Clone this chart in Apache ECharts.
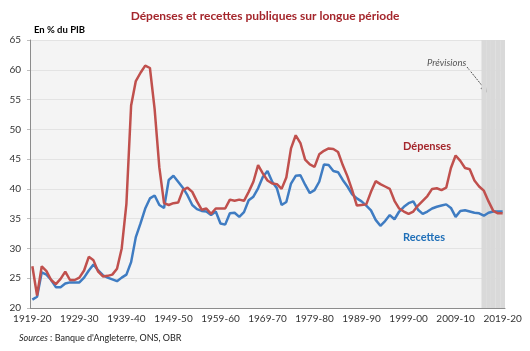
<!DOCTYPE html>
<html>
<head>
<meta charset="utf-8">
<script src="https://cdn.jsdelivr.net/npm/echarts@6/dist/echarts.min.js"></script>
<style>
  html, body { margin: 0; padding: 0; background: #fff; }
  #chart { width: 530px; height: 351px; }
</style>
</head>
<body>
<div id="chart"></div>
<script>
// années budgétaires 1919-20 ... 2019-20
var years = [];
for (var y = 1919; y <= 2019; y++) {
  years.push(y + '-' + String((y + 1) % 100).padStart(2, '0'));
}

var yTicks = [20, 25, 30, 35, 40, 45, 50, 55, 60, 65];
var forecastFrom = '2015-16';

// Dépenses publiques, en % du PIB
var depenses = [
  27.0, 22.1, 27.0, 26.2, 24.7, 24.0, 24.9, 26.1, 24.7, 24.7,
  25.1, 26.3, 28.6, 28.0, 26.1, 25.3, 25.4, 25.6, 26.6, 30.0,
  37.5, 54.0, 58.1, 59.5, 60.7, 60.3, 53.4, 43.6, 37.6, 37.3,
  37.6, 37.7, 39.8, 40.2, 39.5, 37.9, 36.5, 36.7, 35.8, 36.7,
  36.7, 36.7, 38.2, 38.0, 38.2, 38.0, 39.5, 41.2, 44.0, 42.6,
  41.4, 40.9, 40.8, 40.0, 41.9, 46.8, 49.0, 47.7, 44.9, 44.1,
  43.7, 45.8, 46.4, 46.8, 46.7, 46.2, 44.0, 42.1, 39.8, 37.2,
  37.3, 37.4, 39.5, 41.3, 40.8, 40.4, 40.0, 38.0, 36.7, 36.2,
  35.8, 36.2, 37.2, 38.0, 38.8, 40.0, 40.1, 39.8, 40.2, 43.5,
  45.6, 44.7, 43.5, 43.3, 41.4, 40.4, 39.7, 37.9, 36.3, 35.9,
  35.9
];

// Recettes publiques, en % du PIB
var recettes = [
  21.4, 21.9, 26.0, 25.6, 24.7, 23.5, 23.5, 24.1, 24.3, 24.3,
  24.3, 25.1, 26.3, 27.3, 26.3, 25.5, 25.1, 24.8, 24.5, 25.1,
  25.6, 27.7, 31.9, 34.2, 36.7, 38.4, 38.9, 37.3, 36.8, 41.5,
  42.2, 41.2, 40.2, 38.9, 37.3, 36.6, 36.3, 36.2, 35.6, 36.2,
  34.2, 34.0, 35.9, 36.0, 35.3, 36.1, 38.1, 38.7, 40.1, 42.0,
  43.0, 41.2, 40.1, 37.3, 37.8, 40.9, 42.2, 42.3, 40.7, 39.3,
  39.8, 41.2, 44.1, 44.0, 43.0, 42.8, 41.5, 40.4, 39.1, 38.4,
  37.9, 37.2, 36.4, 34.8, 33.8, 34.6, 35.6, 34.9, 36.2, 37.0,
  37.6, 37.9, 36.5, 35.8, 36.2, 36.7, 37.0, 37.2, 37.4, 36.8,
  35.3, 36.3, 36.4, 36.2, 36.0, 35.9, 35.5, 36.0, 36.2, 36.2,
  36.2
];

var yMin = yTicks[0], yMax = yTicks[yTicks.length - 1];
var startIdx = years.indexOf(forecastFrom);
// bande grise des prévisions : une barre pleine hauteur par année
var previsions = years.map(function (c, i) { return i >= startIdx ? yMax : '-'; });

var chart = echarts.init(document.getElementById('chart'));
var font = 'Lato, "Open Sans", sans-serif';

var option = {
  animation: false,
  textStyle: { fontFamily: font },
  title: {
    text: 'Dépenses et recettes publiques sur longue période',
    left: 'center',
    top: 5,
    textStyle: { fontSize: 12, fontWeight: 'bold', color: '#A4262C', fontFamily: font }
  },
  grid: {
    left: 30, right: 25, top: 40, bottom: 43,
    show: true, backgroundColor: '#F4F4F4', borderWidth: 0
  },
  xAxis: {
    type: 'category',
    data: years,
    boundaryGap: true,
    axisLine: { lineStyle: { color: '#8C8C8C', width: 1 } },
    axisTick: { interval: 9, length: 4, lineStyle: { color: '#8C8C8C' } },
    axisLabel: { interval: 9, fontSize: 10, color: '#333', margin: 6 },
    splitLine: { show: false }
  },
  yAxis: {
    type: 'value',
    min: yMin, max: yMax, interval: 5,
    axisLine: { show: true, lineStyle: { color: '#8C8C8C', width: 1 } },
    axisTick: { show: true, length: 3, lineStyle: { color: '#BDBDBD' } },
    axisLabel: { fontSize: 10, color: '#333', margin: 9 },
    splitLine: { lineStyle: { color: '#E3E3E3', width: 1 } }
  },
  series: [
    {
      name: 'Prévisions',
      type: 'bar',
      data: previsions,
      barCategoryGap: '0%',
      itemStyle: { color: '#D9D9D9' },
      silent: true,
      z: 1
    },
    {
      name: 'Recettes',
      type: 'line',
      data: recettes,
      showSymbol: false,
      lineStyle: { color: '#3F7CC2', width: 2.5 },
      z: 3
    },
    {
      name: 'Dépenses',
      type: 'line',
      data: depenses,
      showSymbol: false,
      lineStyle: { color: '#C0504D', width: 2.5 },
      z: 4
    }
  ],
  graphic: [
    {
      type: 'text', left: 34, top: 25,
      style: { text: 'En % du PIB', font: 'bold 9.5px ' + font, fill: '#000' }
    },
    {
      type: 'text', left: 427, top: 58,
      style: { text: 'Prévisions', font: 'italic 9.5px ' + font, fill: '#555' }
    },
    {
      type: 'line',
      shape: { x1: 467, y1: 67, x2: 484, y2: 88 },
      style: { stroke: '#555', lineWidth: 1, lineDash: [2, 1] }
    },
    {
      type: 'polygon',
      shape: { points: [[487.5, 93], [480.5, 88.5], [485.5, 84.5]] },
      style: { fill: '#444' }
    },
    {
      type: 'text', left: 403, top: 141,
      style: { text: 'Dépenses', font: 'bold 11px ' + font, fill: '#A4262C' }
    },
    {
      type: 'text', left: 403, top: 232,
      style: { text: 'Recettes', font: 'bold 11px ' + font, fill: '#1F6FB8' }
    },
    {
      type: 'text', left: 19, top: 334,
      style: {
        text: '{i|Sources} : Banque d\'Angleterre, ONS, OBR',
        font: '9px ' + font, fill: '#222',
        rich: { i: { fontStyle: 'italic', fontSize: 9, fontFamily: font, fill: '#222' } }
      }
    }
  ]
};

chart.setOption(option);
</script>
</body>
</html>
